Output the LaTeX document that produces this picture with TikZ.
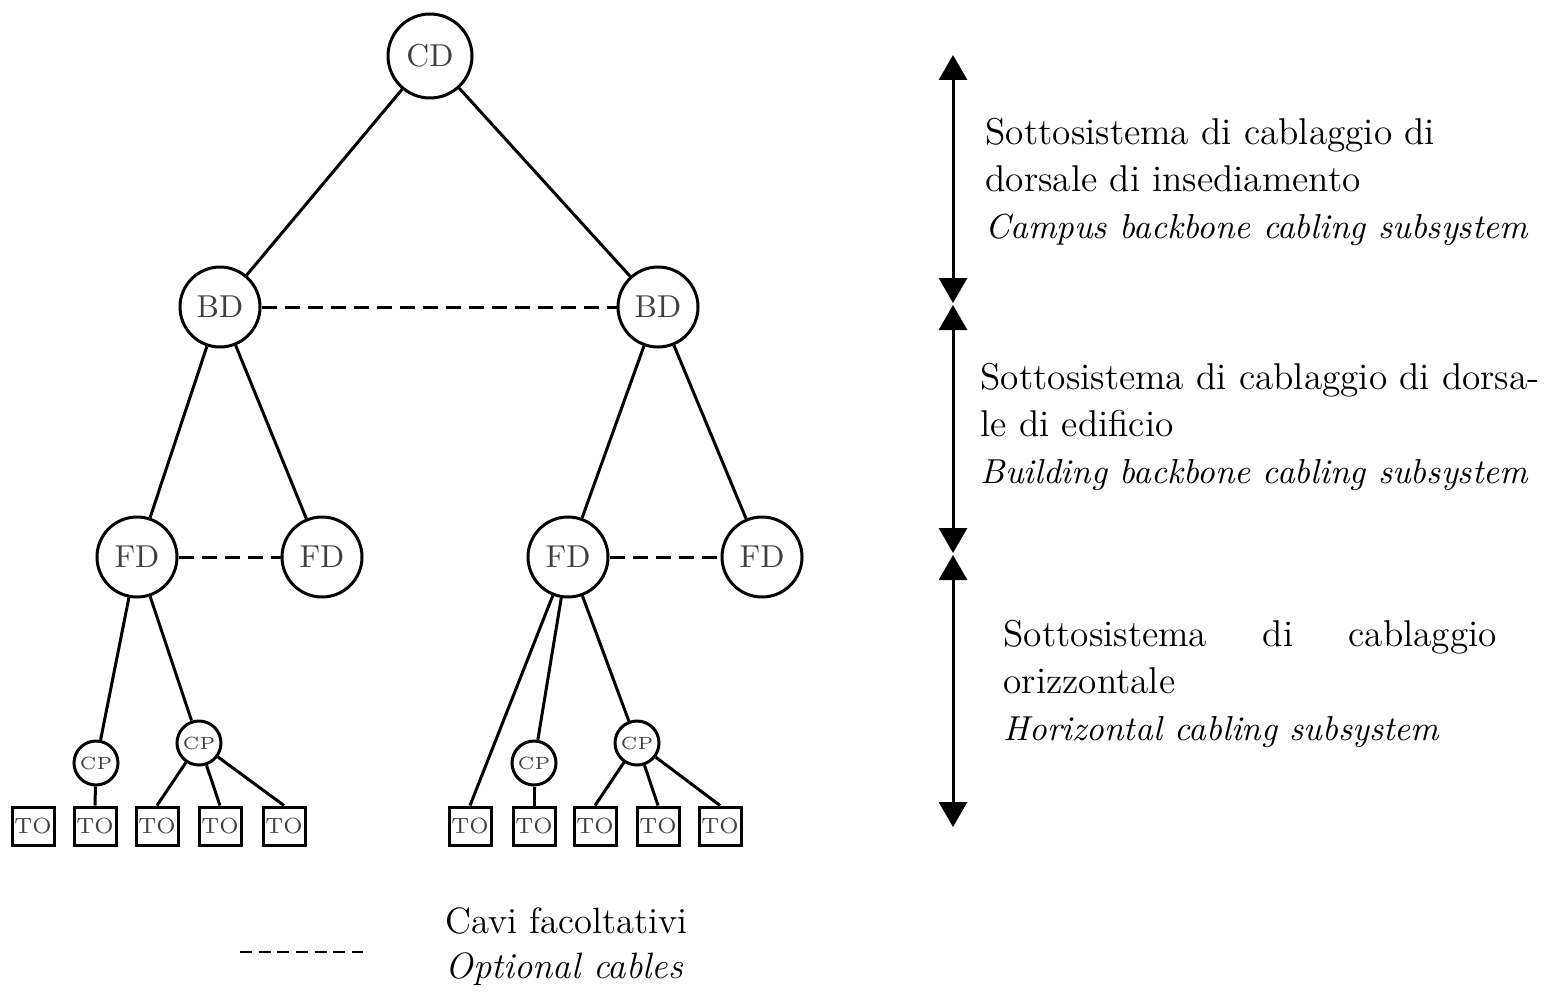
\documentclass[tikz,border=0pt]{standalone}
\usepackage{amsmath}
\usepackage{tikz}
\usetikzlibrary{arrows.meta}
\newcommand{\trad}[1]{{\fontsize{10.4}{14.1}\selectfont\itshape #1}}
\tikzset{
  treenode/.style = {align=center, inner sep=0pt, text centered,
    draw=black, line width=0.9pt, text=black!75},
  arn_cd/.style = {treenode, circle, minimum size=25.2pt,
    font=\fontsize{9.5}{10}\selectfont},% distributore di comprensorio
  arn_d/.style = {treenode, circle, minimum size=24pt,
    font=\fontsize{9.5}{10}\selectfont},% BD e FD
  arn_cp/.style = {treenode, circle, minimum size=13.2pt,
    font=\fontsize{5.3}{6}\selectfont},% punto di consolidamento
  arn_to/.style = {treenode, rectangle, minimum width=12.6pt,
    minimum height=11.4pt, font=\fontsize{6.6}{7}\selectfont},% presa
  cavo/.style = {draw=black, line width=0.9pt},
  cavofac/.style = {cavo, dash pattern=on 4.5pt off 2.4pt},
  freccia/.style = {line width=0.9pt,
    {Triangle[length=7.5pt,width=8.4pt]}-{Triangle[length=7.5pt,width=8.4pt]}},
  testo/.style = {align=left, inner sep=0pt, anchor=north west,
    font=\fontsize{11.2}{14.1}\selectfont}
}

\begin{document}
\begin{tikzpicture}[x=0.3pt,y=-0.3pt]
\useasboundingbox (0,0) rectangle (1554,992);
% albero
\node[arn_cd] (cd) at (430,56) {CD};
\node[arn_d] (bdl) at (220,307) {BD};
\node[arn_d] (bdr) at (658,307) {BD};
\node[arn_d] (fd1) at (137,557) {FD};
\node[arn_d] (fd2) at (322,557) {FD};
\node[arn_d] (fd3) at (568,557) {FD};
\node[arn_d] (fd4) at (762,557) {FD};
\node[arn_cp] (cp1) at (96,763) {CP};
\node[arn_cp] (cp2) at (199,743) {CP};
\node[arn_cp] (cp3) at (534,763) {CP};
\node[arn_cp] (cp4) at (637,743) {CP};
\foreach \i/\x in {1/33,2/95,3/157,4/220,5/284,6/470,7/534,8/595,9/658,10/720}
  \node[arn_to] (to\i) at (\x,826) {TO};

\draw[cavo] (cd) -- (bdl);
\draw[cavo] (cd) -- (bdr);
\draw[cavo] (bdl) -- (fd1);
\draw[cavo] (bdl) -- (fd2);
\draw[cavo] (bdr) -- (fd3);
\draw[cavo] (bdr) -- (fd4);
\draw[cavo] (fd1) -- (cp1);
\draw[cavo] (fd1) -- (cp2);
\draw[cavo] (cp1) -- (to2.north);
\foreach \t in {3,4,5}
  \draw[cavo] (cp2) -- (to\t.north);
\draw[cavo] (fd3) -- (to6.north);
\draw[cavo] (fd3) -- (cp3);
\draw[cavo] (fd3) -- (cp4);
\draw[cavo] (cp3) -- (to7.north);
\foreach \t in {8,9,10}
  \draw[cavo] (cp4) -- (to\t.north);
% cavi facoltativi
\draw[cavofac] (bdl) -- (bdr);
\draw[cavofac] (fd1) -- (fd2);
\draw[cavofac] (fd3) -- (fd4);

% sottosistemi
\coordinate (a1) at (953,55);
\coordinate (a2) at (953,303);
\coordinate (a3) at (953,305);
\coordinate (a4) at (953,553);
\coordinate (a5) at (953,555);
\coordinate (a6) at (953,827);
\draw[freccia] (a1) -- (a2);
\draw[freccia] (a3) -- (a4);
\draw[freccia] (a5) -- (a6);

\node[testo] (campus) at (985,118) {Sottosistema di cablaggio di\\
  dorsale di insediamento\\ \trad{Campus backbone cabling subsystem}};
\node[testo] (edificio) at (980,363) {Sottosistema di cablaggio di dorsa-\\
  le di edificio\\ \trad{Building backbone cabling subsystem}};
\node[testo] (orizz) at (1003,620) {\makebox[148pt][s]{Sottosistema di cablaggio}\\
  orizzontale\\ \trad{Horizontal cabling subsystem}};

% legenda
\coordinate (l1) at (240,952);
\coordinate (l2) at (363,952);
\draw[line width=0.6pt, dash pattern=on 3.6pt off 2pt] (l1) -- (l2);
\node[testo, font=\fontsize{11}{13.5}\selectfont] (legenda) at (445,907)
  {Cavi facoltativi\\ \textit{Optional cables}};
\end{tikzpicture}
\end{document}
